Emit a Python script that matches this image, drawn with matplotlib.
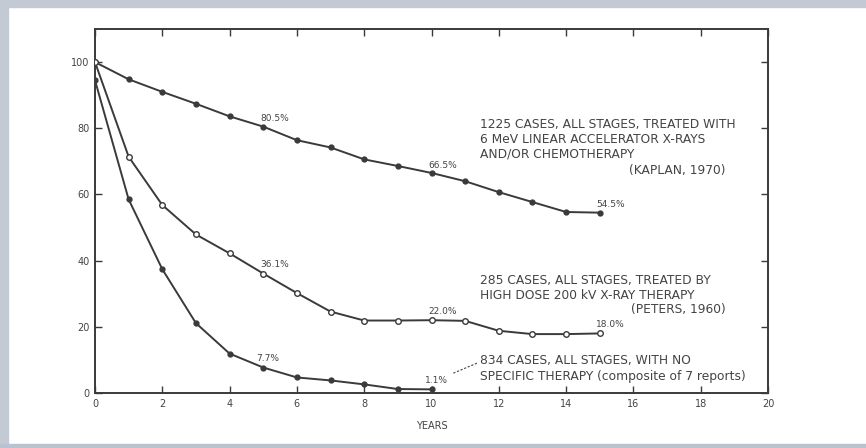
import matplotlib
matplotlib.use("Agg")
import matplotlib.pyplot as plt
from matplotlib.patches import Rectangle

# ---- data ----
years_kaplan = list(range(0, 16))
surv_kaplan = [100, 94.8, 91, 87.4, 83.6, 80.5, 76.4, 74.2, 70.6, 68.6, 66.5, 64.0, 60.7, 57.7, 54.7, 54.5]

years_peters = list(range(0, 16))
surv_peters = [100, 71.4, 56.8, 47.9, 42.2, 36.1, 30.2, 24.6, 21.9, 21.9, 22.0, 21.8, 18.8, 17.8, 17.8, 18.0]

years_none = list(range(0, 11))
surv_none = [94.5, 58.5, 37.4, 21.1, 11.9, 7.7, 4.7, 3.8, 2.6, 1.2, 1.1]

pct_labels_kaplan = [(5, "80.5%"), (10, "66.5%"), (15, "54.5%")]
pct_labels_peters = [(5, "36.1%"), (10, "22.0%"), (15, "18.0%")]
pct_labels_none = [(5, "7.7%"), (10, "1.1%")]

x_ticks = list(range(0, 21, 2))
y_ticks = list(range(0, 101, 20))

lines_kaplan = ["1225 CASES, ALL STAGES, TREATED WITH",
                "6 MeV LINEAR ACCELERATOR X-RAYS",
                "AND/OR CHEMOTHERAPY"]
ref_kaplan = "(KAPLAN, 1970)"
lines_peters = ["285 CASES, ALL STAGES, TREATED BY",
                "HIGH DOSE 200 kV X-RAY THERAPY"]
ref_peters = "(PETERS, 1960)"
lines_none = ["834 CASES, ALL STAGES, WITH NO",
              "SPECIFIC THERAPY (composite of 7 reports)"]

# ---- figure ----
W, H = 866, 448
fig = plt.figure(figsize=(W / 100, H / 100), dpi=100)
fig.patch.set_facecolor("white")

border = "#c3cad4"
fig.patches.append(Rectangle((0, 1 - 7 / H), 1, 7 / H, transform=fig.transFigure, color=border, zorder=0))
fig.patches.append(Rectangle((0, 0), 8 / W, 1, transform=fig.transFigure, color=border, zorder=0))
fig.patches.append(Rectangle((0, 0), 1, 4 / H, transform=fig.transFigure, color="#b9c3cf", zorder=0))

left, right, bottom, top = 95 / W, 768 / W, 1 - 393 / H, 1 - 29 / H
ax = fig.add_axes([left, bottom, right - left, top - bottom])

lc = "#3a3a3a"
tc = "#444444"

ax.plot(years_kaplan, surv_kaplan, color=lc, lw=1.4, marker="o", ms=3.5,
        mfc=lc, mec=lc, zorder=3)
ax.plot(years_peters, surv_peters, color=lc, lw=1.4, marker="o", ms=4,
        mfc="white", mec=lc, mew=1.0, zorder=3)
ax.plot(years_none, surv_none, color=lc, lw=1.4, marker="o", ms=3.5,
        mfc=lc, mec=lc, zorder=3)

pfs = 6.5
for (xx, lab) in pct_labels_kaplan:
    ax.text(xx - 0.1, surv_kaplan[xx] + 2.4, lab, fontsize=pfs, color=tc, ha="left", va="center")
for (xx, lab) in pct_labels_peters:
    ax.text(xx - 0.1, surv_peters[xx] + 2.6, lab, fontsize=pfs, color=tc, ha="left", va="center")
for (xx, lab) in pct_labels_none:
    ax.text(xx - 0.2, surv_none[xx] + 2.8, lab, fontsize=pfs, color=tc, ha="left", va="center")

fs = 8.8
xt = 11.45
for txt, yy in zip(lines_kaplan, [81.0, 76.5, 72.2]):
    ax.text(xt, yy, txt, fontsize=fs, color=tc, ha="left", va="center")
ax.text(18.75, 67.1, ref_kaplan, fontsize=fs, color=tc, ha="right", va="center")
for txt, yy in zip(lines_peters, [34.1, 29.6]):
    ax.text(xt, yy, txt, fontsize=fs, color=tc, ha="left", va="center")
ax.text(18.75, 25.1, ref_peters, fontsize=fs, color=tc, ha="right", va="center")
for txt, yy in zip(lines_none, [9.8, 5.1]):
    ax.text(xt, yy, txt, fontsize=fs, color=tc, ha="left", va="center")

# dashed leader
ax.plot([10.65, 11.37], [6.0, 9.1], color=tc, lw=0.8, ls=(0, (2, 1.5)))

ax.set_xlim(0, 20)
ax.set_ylim(0, 110)
ax.set_xticks(x_ticks)
ax.set_xticklabels([str(v) for v in x_ticks])
ax.set_yticks(y_ticks)
ax.set_yticklabels([str(v) for v in y_ticks])
ax.tick_params(direction="in", length=5, width=1.0, colors=lc, labelsize=7,
               labelcolor=tc, top=True, right=True, pad=4)
for s in ax.spines.values():
    s.set_color(lc)
    s.set_linewidth(1.4)
ax.set_xlabel("YEARS", fontsize=7, color=tc, labelpad=9)

fig.savefig("out.png", dpi=100)
